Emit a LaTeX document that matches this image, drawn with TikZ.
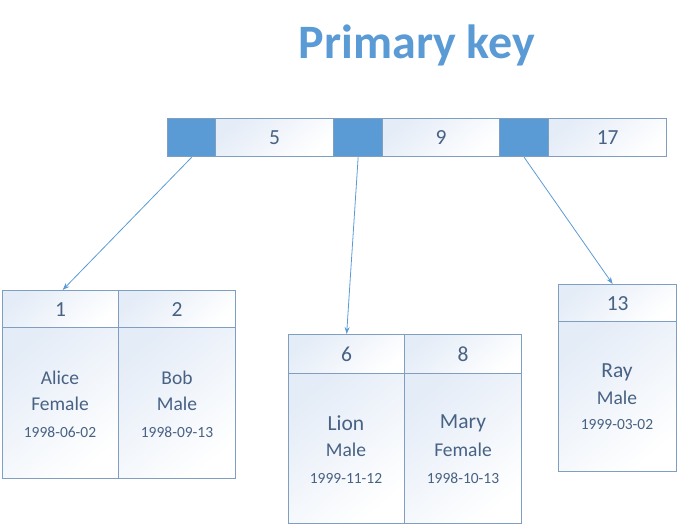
\documentclass[tikz,border=0pt]{standalone}
\usepackage{fontspec}
\setmainfont{Carlito}
\usetikzlibrary{arrows.meta}
\definecolor{accent}{RGB}{91,155,213}
\definecolor{txt}{RGB}{72,98,132}
\definecolor{edge}{RGB}{128,158,192}
\definecolor{tint}{RGB}{228,236,247}
\tikzset{
  x=1pt, y=-1pt,
  cell/.style={draw=edge, line width=1.3pt, anchor=north west, inner sep=0pt,
    top color=tint, bottom color=white, shading angle=40},
  ptr/.style={draw=edge, line width=1.3pt, fill=accent, anchor=north west, inner sep=0pt},
  num/.style={text=txt, font=\fontsize{21.5}{23}\selectfont},
  big/.style={text=txt, font=\fontsize{21.5}{23}\selectfont},
  med/.style={text=txt, font=\fontsize{19.5}{21}\selectfont},
  small/.style={text=txt, font=\fontsize{15.5}{17}\selectfont},
  link/.style={draw=accent, line width=0.8pt, -{Stealth[length=7pt,width=5pt]}}
}
\begin{document}
\begin{tikzpicture}
\useasboundingbox (0,0) rectangle (678,525);
% title
\node[text=accent, font=\fontsize{48}{52}\selectfont\bfseries] (title) at (417,45) {Primary key};
% top key bar
\node[ptr, minimum width=48pt, minimum height=38pt] (p1) at (167,118) {};
\node[cell, minimum width=118pt, minimum height=38pt] (k5) at (215,118) {};
\node[ptr, minimum width=49pt, minimum height=38pt] (p2) at (333,118) {};
\node[cell, minimum width=117pt, minimum height=38pt] (k9) at (382,118) {};
\node[ptr, minimum width=49pt, minimum height=38pt] (p3) at (499,118) {};
\node[cell, minimum width=118pt, minimum height=38pt] (k17) at (548,118) {};
\node[num] (t5) at (k5.center) {5};
\node[num] (t9) at (k9.center) {9};
\node[num] (t17) at (k17.center) {17};
% left leaf
\node[cell, minimum width=116pt, minimum height=37pt] (h1) at (2,290) {};
\node[cell, minimum width=117pt, minimum height=37pt] (h2) at (118,290) {};
\node[cell, minimum width=116pt, minimum height=151pt] (b1) at (2,327) {};
\node[cell, minimum width=117pt, minimum height=151pt] (b2) at (118,327) {};
\node[num] (n1) at (h1.center) {1};
\node[num] (n2) at (h2.center) {2};
\node[med] (alice) at (60,378) {Alice};
\node[med] (fem1) at (60,404) {Female};
\node[small] (d1) at (60,432) {1998-06-02};
\node[med] (bob) at (177,378) {Bob};
\node[med] (male2) at (177,404) {Male};
\node[small] (d2) at (177,432) {1998-09-13};
% middle leaf
\node[cell, minimum width=116pt, minimum height=39pt] (h6) at (288,334) {};
\node[cell, minimum width=117pt, minimum height=39pt] (h8) at (404,334) {};
\node[cell, minimum width=116pt, minimum height=150pt] (b6) at (288,373) {};
\node[cell, minimum width=117pt, minimum height=150pt] (b8) at (404,373) {};
\node[num] (n6) at (h6.center) {6};
\node[num] (n8) at (h8.center) {8};
\node[big] (lion) at (346,423) {Lion};
\node[med] (male6) at (346,450) {Male};
\node[small] (d6) at (346,478) {1999-11-12};
\node[big] (mary) at (463,423) {Mary};
\node[med] (fem8) at (463,450) {Female};
\node[small] (d8) at (463,478) {1998-10-13};
% right leaf
\node[cell, minimum width=118pt, minimum height=37pt] (h13) at (558,284) {};
\node[cell, minimum width=118pt, minimum height=150pt] (b13) at (558,321) {};
\node[num] (n13) at (h13.center) {13};
\node[big] (ray) at (617,372) {Ray};
\node[med] (male13) at (617,398) {Male};
\node[small] (d13) at (617,425) {1999-03-02};
% links
\draw[link] (p1.south) -- ([xshift=2pt]h1.north);
\draw[link] (p2.south) -- (h6.north);
\draw[link] (p3.south) -- ([xshift=-5pt]h13.north);
\end{tikzpicture}
\end{document}
